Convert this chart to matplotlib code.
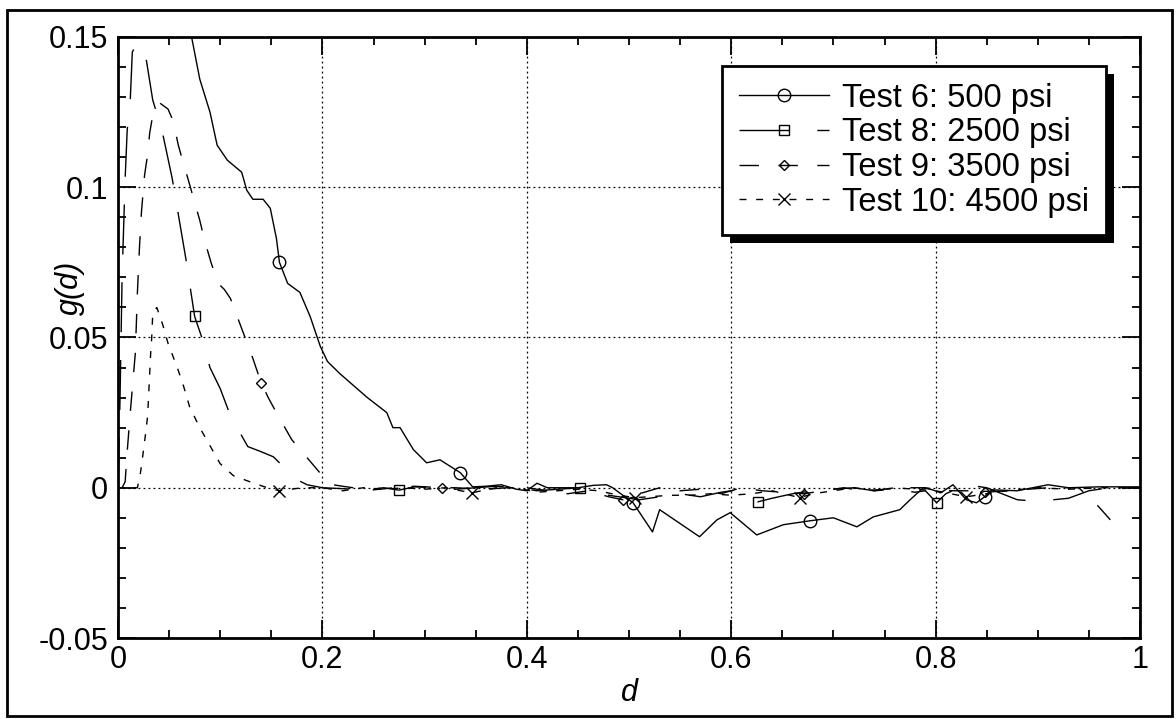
import matplotlib
matplotlib.use("Agg")
import matplotlib.pyplot as plt
from matplotlib.patches import Rectangle

plt.rcParams['font.family'] = ['Liberation Sans', 'DejaVu Sans']

# traced g(d) curves
d6 = [0.065, 0.072, 0.080, 0.090, 0.097, 0.107, 0.121, 0.126, 0.132, 0.142,
      0.149, 0.155, 0.158, 0.166, 0.178, 0.188, 0.198, 0.205, 0.217, 0.244, 0.263, 0.269, 0.276,
      0.289, 0.302, 0.315, 0.335, 0.347, 0.36, 0.375, 0.39, 0.40, 0.41, 0.42, 0.435, 0.45, 0.465,
      0.478, 0.484, 0.504, 0.523, 0.530, 0.569, 0.586, 0.599, 0.625, 0.651, 0.677, 0.700, 0.723,
      0.739, 0.765, 0.775, 0.788, 0.797, 0.805, 0.817, 0.830, 0.840, 0.848, 0.855, 0.88, 0.91,
      0.93, 0.96, 1.0]
g6 = [0.2, 0.150, 0.136, 0.125, 0.114, 0.109, 0.105, 0.099, 0.096, 0.096,
      0.093, 0.083, 0.075, 0.068, 0.065, 0.057, 0.047, 0.042, 0.038, 0.030, 0.025, 0.020, 0.020,
      0.0127, 0.0083, 0.0093, 0.005, 0.0003, 0.0005, 0.001, -0.0005, -0.001, 0.0015, 0.0, 0.0,
      0.0, 0.0008, 0.001, 0.0, -0.005, -0.0147, -0.0073, -0.0163, -0.0107, -0.0083, -0.0157,
      -0.0123, -0.011, -0.010, -0.013, -0.0097, -0.0073, -0.004, 0.0, -0.0007, -0.0017, 0.001,
      -0.004, -0.005, -0.003, -0.0007, -0.001, 0.001, 0.0, 0.0003, 0.0003]
m6 = [0.158, 0.335, 0.504, 0.677, 0.848]

d8 = [0.0, 0.002, 0.004, 0.007, 0.009, 0.012, 0.014, 0.019, 0.026, 0.034, 0.043, 0.053, 0.058,
      0.0665, 0.0705, 0.075, 0.082, 0.090, 0.100, 0.110, 0.127, 0.140, 0.152, 0.165, 0.175,
      0.185, 0.20, 0.22, 0.24, 0.26, 0.275, 0.29, 0.31, 0.33, 0.35, 0.37, 0.39, 0.41, 0.43,
      0.452, 0.47, 0.49, 0.51, 0.53, 0.55, 0.57, 0.59, 0.61, 0.626, 0.64, 0.66, 0.68, 0.70,
      0.72, 0.74, 0.76, 0.78, 0.79, 0.801, 0.81, 0.83, 0.85, 0.88, 0.90, 0.93, 0.95, 0.97, 1.0]
g8 = [0.0, 0.03, 0.07, 0.103, 0.119, 0.129, 0.145, 0.148, 0.146, 0.129, 0.119, 0.103, 0.093,
      0.076, 0.067, 0.057, 0.050, 0.040, 0.033, 0.024, 0.0137, 0.012, 0.0103, 0.006, 0.0027,
      0.001, 0.0, -0.0003, -0.0007, 0.0, -0.0008, 0.0003, 0.0, -0.0005, 0.0, 0.0005, 0.0,
      -0.001, -0.0005, 0.0, -0.002, -0.003, -0.004, -0.003, -0.002, -0.003, -0.0015, -0.0005,
      -0.0047, -0.0035, -0.002, -0.001, -0.0005, 0.0, -0.001, -0.0005, -0.0015, -0.001, -0.005,
      -0.002, 0.001, 0.0, -0.004, -0.0045, -0.0035, -0.001, 0.0, 0.0]
m8 = [0.075, 0.275, 0.452, 0.626, 0.801]

d9 = [0.004, 0.007, 0.009, 0.012, 0.015, 0.017, 0.018, 0.019, 0.021, 0.023, 0.026, 0.029, 0.031,
      0.034, 0.041, 0.049, 0.054, 0.059, 0.064, 0.070, 0.075, 0.080, 0.085, 0.091, 0.098, 0.104,
      0.110, 0.121, 0.132, 0.140, 0.147, 0.155, 0.170, 0.185, 0.20, 0.21, 0.23, 0.25, 0.27,
      0.29, 0.317, 0.33, 0.36, 0.38, 0.40, 0.42, 0.44, 0.46, 0.48, 0.494, 0.51, 0.53, 0.55,
      0.57, 0.59, 0.61, 0.63, 0.65, 0.671, 0.69, 0.71, 0.73, 0.75, 0.77, 0.79, 0.81, 0.83,
      0.848, 0.87, 0.89, 0.91, 0.94, 0.956, 0.964, 0.971]
g9 = [0.0, 0.002, 0.012, 0.025, 0.037, 0.045, 0.055, 0.065, 0.080, 0.092, 0.104, 0.111, 0.118,
      0.124, 0.128, 0.126, 0.122, 0.114, 0.108, 0.101, 0.095, 0.089, 0.082, 0.075, 0.068, 0.066,
      0.063, 0.053, 0.043, 0.035, 0.030, 0.025, 0.016, 0.010, 0.004, 0.001, 0.0, -0.0007, 0.0,
      0.0005, 0.0, 0.0, -0.0005, 0.0, 0.0, -0.001, -0.002, -0.001, -0.003, -0.004, -0.002, 0.0,
      -0.001, -0.0005, -0.002, 0.0, -0.001, -0.0015, -0.002, -0.001, 0.0, -0.001, -0.0005, 0.0,
      0.0, -0.001, -0.001, -0.0015, -0.001, -0.0005, 0.0, 0.0, -0.005, -0.008, -0.0107]
m9 = [0.140, 0.317, 0.494, 0.671, 0.848]

d10 = [0.0, 0.01, 0.019, 0.022, 0.024, 0.027, 0.029, 0.030, 0.031, 0.032, 0.033, 0.034, 0.038,
       0.044, 0.049, 0.058, 0.064, 0.070, 0.080, 0.090, 0.100, 0.113, 0.129, 0.146, 0.158, 0.18,
       0.20, 0.22, 0.24, 0.26, 0.28, 0.30, 0.32, 0.346, 0.37, 0.39, 0.41, 0.43, 0.45, 0.47, 0.49,
       0.506, 0.52, 0.54, 0.56, 0.58, 0.60, 0.62, 0.64, 0.667, 0.68, 0.70, 0.72, 0.74, 0.76,
       0.78, 0.80, 0.83, 0.85, 0.87, 0.90, 0.93, 0.96, 1.0]
g10 = [0.0, 0.0, 0.0, 0.005, 0.010, 0.018, 0.024, 0.031, 0.038, 0.045, 0.050, 0.058, 0.060,
       0.054, 0.048, 0.040, 0.034, 0.027, 0.020, 0.014, 0.008, 0.004, 0.002, 0.0, -0.001, 0.0,
       0.0, -0.001, 0.0, -0.0005, 0.0, -0.0005, 0.0, -0.0017, 0.0, 0.0, -0.0015, -0.001, -0.0005,
       -0.001, -0.0025, -0.0033, -0.003, -0.0025, -0.0025, -0.002, -0.0025, -0.002, -0.001,
       -0.0033, -0.002, -0.001, 0.0, -0.001, 0.0, -0.0005, -0.001, -0.003, -0.002, -0.001, 0.0,
       -0.0005, 0.0, 0.0]
m10 = [0.158, 0.346, 0.506, 0.667, 0.83]

labels = ['Test 6: 500 psi', 'Test 8: 2500 psi', 'Test 9: 3500 psi', 'Test 10: 4500 psi']
xticks = [0, 0.2, 0.4, 0.6, 0.8, 1]
xticklabels = ['0', '0.2', '0.4', '0.6', '0.8', '1']
yticks = [-0.05, 0, 0.05, 0.1, 0.15]
yticklabels = ['-0.05', '0', '0.05', '0.1', '0.15']

fig = plt.figure(figsize=(11.76, 7.19), dpi=100)
ax = fig.add_axes([118 / 1176, 1 - 638 / 719, (1140 - 118) / 1176, (638 - 37) / 719])

series = [
    (d6, g6, m6, 'o', 9, None),
    (d8, g8, m8, 's', 7, (36, 20)),
    (d9, g9, m9, 'D', 5, (14, 14)),
    (d10, g10, m10, 'x', 8, (5, 7)),
]
for (d, g, marks, mk, ms, dash), lab in zip(series, labels):
    idx = [d.index(m) for m in marks]
    line, = ax.plot(d, g, color='black', lw=1.0, marker=mk, ms=ms, mfc='none', mec='black',
                    mew=1.0, markevery=idx, label=lab, zorder=3)
    if dash is not None:
        line.set_dashes(dash)

ax.set_xlim(0, 1)
ax.set_ylim(-0.05, 0.15)
ax.set_xticks(xticks)
ax.set_xticklabels(xticklabels)
ax.set_yticks(yticks)
ax.set_yticklabels(yticklabels)
ax.set_xticks([i * 0.05 for i in range(21)], minor=True)
ax.set_yticks([-0.05 + i * 0.01 for i in range(21)], minor=True)
ax.tick_params(which='both', direction='in', top=True, right=True, labelsize=22)
ax.tick_params(axis='y', pad=7)
ax.tick_params(axis='x', pad=5)
ax.tick_params(which='major', length=13, width=1.3)
ax.tick_params(which='minor', length=6, width=1.3)
ax.grid(True, which='major', linestyle=(0, (1.5, 2.5)), color='black', lw=0.9)
for s in ax.spines.values():
    s.set_linewidth(2.0)

ax.set_xlabel('d', fontsize=22, style='italic', labelpad=2)
ax.set_ylabel('g(d)', fontsize=22, style='italic')
ax.yaxis.set_label_coords(-0.032, 0.582)

leg = ax.legend(loc='upper left', bbox_to_anchor=(0.591, 0.952), fontsize=23.5, frameon=True,
                fancybox=False, edgecolor='black', framealpha=1, handlelength=2.75,
                handletextpad=0.4, labelspacing=0.11, borderpad=0.52, borderaxespad=0)
leg.get_frame().set_linewidth(2.0)
leg.set_zorder(6)

# solid drop shadow behind the legend box
fig.canvas.draw()
bb = leg.get_window_extent().transformed(fig.transFigure.inverted())
ax.add_patch(Rectangle((bb.x0 + 8 / 1176, bb.y0 - 8 / 719), bb.width, bb.height,
                       transform=fig.transFigure, facecolor='black', edgecolor='none',
                       clip_on=False, zorder=5.5))

# outer frame around the figure
fig.add_artist(Rectangle((7 / 1176, 3 / 719), 1165 / 1176, 706 / 719, transform=fig.transFigure,
                         fill=False, edgecolor='black', lw=2.0))

fig.savefig('out.png', dpi=100)
